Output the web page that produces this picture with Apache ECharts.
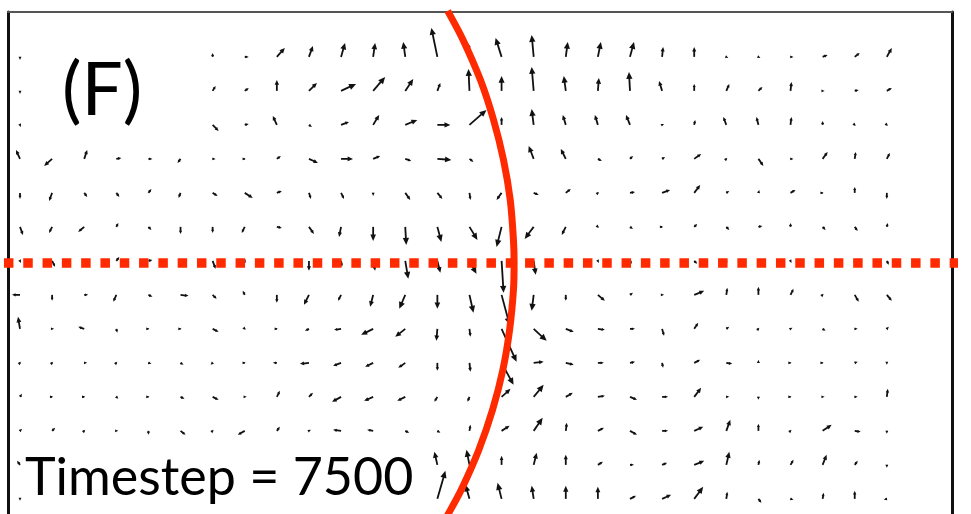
<!DOCTYPE html>
<html><head><meta charset="utf-8">
<script src="https://cdn.jsdelivr.net/npm/echarts@6/dist/echarts.min.js"></script>
<style>html,body{margin:0;padding:0;background:#fff}#c{width:971px;height:514px}</style>
</head><body><div id="c"></div>
<script>
// Velocity field: U (rightward) and V (upward) per row (row 0 = top), columns 0..27.
// Zero entries = cells hidden behind the labels.
const U = [
 [0,0,0,0,0,0,0,4,8,4,4,2,-2,-6,-3,-6,-2,2,3,4,1,0,2,2,3,5,5,5],
 [0,0,0,0,0,0,3,4,0,8,15,12,8,3,-1,0,-2,-2,1,-1,-3,0,3,4,1,2,4,5],
 [1,0,0,0,0,0,6,4,-4,3,8,6,12,13,17,0,-2,-3,-3,-4,2,1,-3,-2,1,0,1,1],
 [-4,-8,3,5,4,-3,3,1,4,9,12,7,6,14,4,-1,-5,-5,4,3,3,7,1,5,3,5,1,3],
 [0,-3,3,3,3,-2,5,8,5,2,3,0,5,5,1,-5,5,5,1,5,8,6,3,1,5,1,0,0],
 [3,-3,-6,2,3,0,0,-3,5,5,-2,0,1,4,8,-5,-9,-4,1,3,1,3,3,4,0,3,3,1],
 [1,3,1,3,4,1,3,1,0,0,1,2,3,3,7,2,2,1,1,2,4,3,1,1,1,1,1,2],
 [-8,0,4,-3,4,8,4,-2,0,-5,-3,-3,-6,0,4,8,-2,0,7,3,2,10,1,0,3,1,4,5],
 [-2,2,-6,1,1,1,6,1,1,-4,-7,-12,-10,-1,1,15,13,8,7,5,2,4,3,1,2,3,3,2],
 [1,1,3,1,3,3,-2,1,-4,-9,-8,-8,-7,0,1,12,10,8,6,5,1,6,6,0,1,1,3,0],
 [2,1,1,2,1,4,6,2,3,4,-9,-9,-8,-3,-2,9,10,7,7,7,6,7,3,0,1,2,3,1],
 [2,3,1,2,0,5,1,-7,3,2,-8,-6,4,3,1,8,9,1,6,7,6,9,4,0,1,9,6,0],
 [-3,0,0,0,0,0,0,0,0,0,0,0,0,-3,-3,0,3,0,5,4,5,10,3,1,3,4,3,0],
 [0,0,0,0,0,0,0,0,0,0,0,0,0,8,-4,-4,-2,0,0,6,9,9,1,3,3,1,0,-3]
];
const V = [
 [-3,0,0,0,0,0,4,0,9,11,14,14,15,29,16,19,22,15,15,15,10,10,-1,-1,0,2,4,9],
 [-3,0,0,0,0,0,5,3,11,8,7,14,12,8,22,15,24,15,13,19,10,7,7,4,9,0,1,3],
 [-2,0,0,0,0,0,-6,1,9,-2,3,10,5,0,15,8,16,10,10,10,1,5,8,8,8,4,-1,-1],
 [9,-7,9,1,0,-4,0,0,3,-4,0,3,-2,-1,-3,10,13,10,-2,3,2,5,1,-7,0,7,7,6],
 [-6,-8,-4,-4,4,-5,-3,-5,2,-6,-6,-3,-7,-6,-7,-7,-2,4,1,1,3,8,2,3,3,0,6,-6],
 [-8,-6,-5,4,-3,-7,-6,-6,-1,-7,-10,-14,-18,-15,-13,-20,-12,-8,-1,-2,0,3,-3,1,4,-3,-4,4],
 [-2,-6,-3,4,1,-6,-8,-2,-5,-10,-6,-10,-18,-12,-13,-32,-14,-5,-2,-3,-5,-3,-2,-3,-2,-3,-3,-4],
 [0,-6,0,-7,-2,-1,-4,4,-8,-10,-6,-12,-14,-14,-18,-30,-16,-6,-6,2,0,4,7,8,6,1,-7,-6],
 [12,0,2,-4,0,0,-3,-1,0,-2,-1,-6,-8,-12,-8,-33,-12,-3,-1,0,-7,6,2,1,1,-2,0,2],
 [1,1,0,1,-1,-2,-2,0,0,-1,-3,-4,-5,-8,-9,-22,1,-2,0,1,-5,3,-1,3,0,0,1,-2],
 [3,0,0,-2,0,-2,-3,0,6,4,-5,-4,-4,-5,-5,8,12,4,1,-3,0,9,0,-3,0,0,0,8],
 [2,3,1,0,-4,-4,1,-4,4,1,1,1,-2,-2,6,5,13,8,3,-4,0,4,11,7,1,6,-1,-3],
 [4,0,0,0,0,0,0,0,0,0,0,0,0,13,15,9,12,10,3,0,2,4,13,5,5,10,4,-3],
 [-2,0,0,0,0,0,0,0,0,0,0,0,0,28,14,16,13,13,12,3,4,12,7,-4,-1,6,8,-1]
];
// Red interface curve (column, row coordinates)
const curveCol = [13.32,13.80,14.34,14.75,15.06,15.27,15.37,15.39,15.37,15.25,15.04,14.72,14.29,13.74,13.34,13.05];
const curveRow = [-1.353,-0.5,0.676,1.853,3.029,4.206,5.382,6.059,6.853,8.029,9.206,10.38,11.56,12.74,13.44,13.91];
// Dotted horizontal line (row position, column span)
const dotRow = 6.06;
const dotSpan = [-0.5, 29.65];
const panelLabel = '(F)';
const stepLabel = 'Timestep = 7500';

const field = [];
for (let r = 0; r < U.length; r++) for (let c = 0; c < U[r].length; c++) field.push([c, r, U[r][c], V[r][c]]);

const SX = 1/32.1, SY = 1/34;
function renderArrow(params, api) {
  const x = api.value(0), y = api.value(1), u = api.value(2), v = api.value(3);
  if (!u && !v) return null;
  const p0 = api.coord([x, y]);
  const p1 = api.coord([x + u * SX, y - v * SY]);
  const dx = p1[0] - p0[0], dy = p1[1] - p0[1];
  const len = Math.hypot(dx, dy);
  if (len < 0.5) return null;
  const ux = dx / len, uy = dy / len;
  const hl = Math.min(7, Math.max(3.2, len * 0.45));
  const hw = hl * 0.45;
  const bx = p1[0] - ux * hl, by = p1[1] - uy * hl;
  return {
    type: 'group',
    children: [
      { type: 'line', shape: { x1: p0[0], y1: p0[1], x2: bx + ux, y2: by + uy }, style: { stroke: '#111', lineWidth: 1.8 } },
      { type: 'polygon', shape: { points: [[p1[0], p1[1]], [bx - uy * hw, by + ux * hw], [bx + uy * hw, by - ux * hw]] }, style: { fill: '#111' } }
    ]
  };
}

const chart = echarts.init(document.getElementById('c'));
chart.setOption({
  animation: false,
  grid: { left: 8, top: 12, width: 944, height: 502, show: false },
  xAxis: { type: 'value', min: -0.374, max: 29.03, position: 'top',
    axisLine: { show: true, onZero: false, lineStyle: { color: '#555', width: 2 } },
    axisTick: { show: false }, axisLabel: { show: false }, splitLine: { show: false } },
  yAxis: [
    { type: 'value', min: -1.32, max: 13.445, inverse: true,
      axisLine: { show: true, onZero: false, lineStyle: { color: '#111', width: 3 } },
      axisTick: { show: false }, axisLabel: { show: false }, splitLine: { show: false } },
    { type: 'value', min: -1.32, max: 13.445, inverse: true, position: 'right',
      axisLine: { show: true, onZero: false, lineStyle: { color: '#111', width: 3 } },
      axisTick: { show: false }, axisLabel: { show: false }, splitLine: { show: false } }
  ],
  series: [
    { type: 'custom', renderItem: renderArrow, data: field, clip: false, z: 2 },
    { type: 'line', data: curveCol.map((c, i) => [c, curveRow[i]]), smooth: 0.3, showSymbol: false, clip: false,
      lineStyle: { color: '#ff2a00', width: 7 }, z: 3 },
    { type: 'line', data: dotSpan.map(c => [c, dotRow]), showSymbol: false, clip: false,
      lineStyle: { color: '#ff2a00', width: 9.5, type: [9.5, 9.8], cap: 'butt' }, z: 4 }
  ],
  graphic: [
    { type: 'text', left: 62, top: 55, style: { text: panelLabel, font: '73px Lato', fill: '#000' } },
    { type: 'text', left: 25, top: 452, style: { text: stepLabel, font: '52px Lato', fill: '#000' } }
  ]
});
</script></body></html>
